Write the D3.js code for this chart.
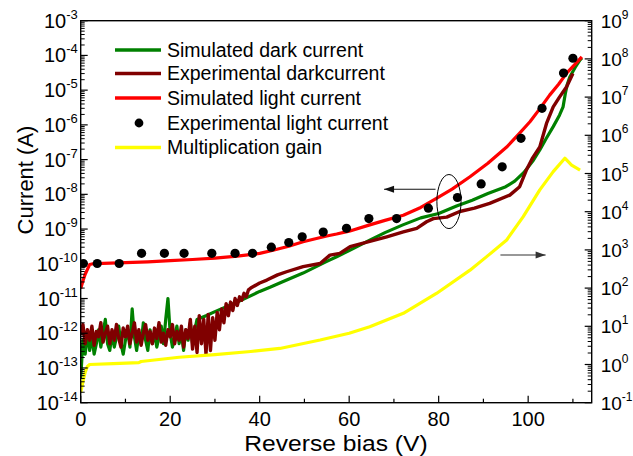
<!DOCTYPE html>
<html><head><meta charset="utf-8">
<script src="https://cdn.jsdelivr.net/npm/d3@7"></script>
<style>
body{margin:0;background:#fff}
text{font-family:"Liberation Sans",Arial,sans-serif;fill:#000}
</style>
</head><body>
<svg id="chart" width="633" height="456"></svg>
<script>
// ---------- data ----------
const xMajorTicks = [0, 20, 40, 60, 80, 100];
const xMinorTicks = [10, 30, 50, 70, 90, 110];
const leftExponents = [-14,-13,-12,-11,-10,-9,-8,-7,-6,-5,-4,-3];
const rightExponents = [-1,0,1,2,3,4,5,6,7,8,9];

const legendLabels = ["Simulated dark current","Experimental darkcurrent","Simulated light current","Experimental light current","Multiplication gain"];

// Simulated dark current
const simDarkV = [0,0.5,1,1.5,2,2.5,3,3.5,4,4.5,5,5.5,6,6.5,7,7.5,8,8.5,9,9.5,10,10.5,11,11.5,12,12.5,13,13.5,14,14.5,15,15.5,16,16.5,17,17.5,18,18.5,19,19.5,20,20.5,21,21.5,22,22.5,23,23.5,24,24.5,25,25.5,26,
  28,30,35,40,42.3,45,49.7,55,57.2,60,64.6,68,72,76,80,84,87.5,91,95,97,99,101,102.6,104,105.6,107,107.8,108.3,108.7,109.3,110.5,111.6,112];
const simDarkI = [5.0e-14,6.3e-13,2.5e-13,1.0e-12,3.2e-13,7.9e-13,2.5e-13,5.0e-13,1.26e-12,4.0e-13,1.0e-12,2.5e-12,5.0e-13,3.2e-13,1.0e-12,4.0e-13,7.9e-13,1.6e-12,5.0e-13,2.5e-13,6.3e-13,1.26e-12,4.0e-13,5.0e-12,7.9e-13,3.2e-13,1.0e-12,5.0e-13,2.0e-12,6.3e-13,3.2e-13,1.26e-12,5.0e-13,1.0e-12,4.0e-13,7.9e-13,1.6e-12,5.0e-13,2.5e-12,1.0e-11,1.0e-12,4.0e-13,7.9e-13,1.6e-12,5.0e-13,1.0e-12,3.2e-13,1.26e-12,6.3e-13,2.0e-12,5.0e-13,1.26e-12,2.5e-12,
  3.2e-12,4.2e-12,7.9e-12,1.6e-11,2.1e-11,3.0e-11,5.4e-11,1.17e-10,1.6e-10,2.4e-10,4.8e-10,7.9e-10,1.32e-9,2.1e-9,2.8e-9,4.6e-9,6.8e-9,1.05e-8,1.66e-8,2.4e-8,4.2e-8,8.9e-8,1.9e-7,4.0e-7,8.9e-7,1.9e-6,3.3e-6,7.9e-6,1.4e-5,2.4e-5,4.5e-5,7.4e-5,8.5e-5];

// Experimental dark current
const expDarkV = [0,0.5,1,1.5,2,2.5,3,3.5,4,4.5,5,5.5,6,6.5,7,7.5,8,8.5,9,9.5,10,10.5,11,11.5,12,12.5,13,13.5,14,14.5,15,15.5,16,16.5,17,17.5,18,18.5,19,19.5,20,20.5,21,21.5,22,22.5,23,23.5,24,24.5,25,25.5,26,26.5,27,27.5,28,28.5,29,29.5,30,30.5,31,31.5,32,32.5,33,33.5,34,34.5,35,35.5,36,36.5,37,37.5,38,
  40,41.6,44,46,49.7,53.5,55.7,57.9,60.2,64.6,68.4,72.1,75.1,77.3,78.8,81.8,84.7,88,91.4,95.9,98.1,99.6,101,102.6,104.1,105.6,107,108.6,110];
const expDarkI = [8.9e-13,1.78e-12,5.0e-13,1.26e-12,6.3e-13,1.6e-12,4.5e-13,1.12e-12,7.9e-13,2.0e-12,5.6e-13,1.0e-12,1.6e-12,5.0e-13,1.26e-12,6.3e-13,1.78e-12,7.1e-13,4.0e-13,1.41e-12,7.9e-13,1.6e-12,5.0e-13,1.0e-12,2.0e-12,5.6e-13,1.26e-12,4.5e-13,1.0e-12,1.78e-12,6.3e-13,1.12e-12,5.0e-13,1.41e-12,7.1e-13,2.0e-12,5.6e-13,1.0e-12,4.5e-13,1.26e-12,7.9e-13,1.78e-12,5.0e-13,1.12e-12,6.3e-13,1.6e-12,4.0e-13,1.26e-12,7.1e-13,2.5e-12,3.5e-13,1.6e-12,2.8e-13,3.2e-12,5.0e-13,2.5e-12,2.5e-13,3.5e-12,3.2e-13,2.8e-12,6.3e-13,4.0e-12,1.26e-12,5.0e-12,2.0e-12,7.1e-12,3.2e-12,7.9e-12,4.5e-12,1.0e-11,6.3e-12,1.12e-11,8.9e-12,1.41e-11,1.12e-11,1.78e-11,2.0e-11,
  2.8e-11,3.4e-11,4.8e-11,5.9e-11,8.3e-11,1.02e-10,1.78e-10,2.0e-10,3.1e-10,4.4e-10,6.0e-10,8.3e-10,1.05e-9,1.62e-9,2.0e-9,2.2e-9,3.2e-9,4.0e-9,5.5e-9,9.5e-9,1.66e-8,5.0e-8,1.12e-7,2.3e-7,1.1e-6,3.3e-6,6.3e-6,1.26e-5,3.0e-5];

// Simulated light current
const simLightV = [0,0.5,1,2,3,5,10,15,20,25,30,35,40,43,46.5,49.7,55,57.2,60,64.6,68,72.1,76,79.5,83,87,91,95.2,98,100.4,102.5,104.8,106.8,108.6,110.5,112];
const simLightI = [1.95e-11,3.2e-11,5.0e-11,9.5e-11,1.02e-10,1.03e-10,1.08e-10,1.14e-10,1.23e-10,1.33e-10,1.45e-10,1.66e-10,2.0e-10,2.45e-10,3.2e-10,4.3e-10,6.3e-10,7.2e-10,8.7e-10,1.32e-9,1.78e-9,2.5e-9,4.2e-9,7.6e-9,1.41e-8,3.2e-8,7.9e-8,2.3e-7,5.6e-7,1.23e-6,2.8e-6,7.2e-6,1.48e-5,3.1e-5,5.6e-5,9.1e-5];

// Experimental light current (points)
const expLightV = [0.6,3.7,8.6,13.6,18.7,23.1,29.3,34.5,38.4,42.6,46.5,49.5,54.2,59.4,64.4,70.6,77.7,84.2,89.5,94.2,98.4,103.1,107.9,110.0];
const expLightI = [1.02e-10,1.02e-10,1.02e-10,2.0e-10,2.0e-10,2.0e-10,2.0e-10,2.0e-10,2.0e-10,3.0e-10,4.1e-10,6.0e-10,8.2e-10,1.05e-9,2.0e-9,2.0e-9,4.0e-9,8.1e-9,2.0e-8,6.2e-8,4.1e-7,3.0e-6,3.1e-5,8.3e-5];

// Multiplication gain (right axis)
const gainV = [0,0.5,1,1.5,2,7.3,13,13.5,22,30,38,44.5,53.5,60,64.6,72.1,79.5,87,91,95.2,98.9,102.6,105.6,108.2,109.7,111.6];
const gainG = [0.186,0.355,0.63,0.89,1.0,1.05,1.12,1.2,1.55,1.82,2.19,2.63,4.37,6.6,9.77,21.9,72.4,295,708,1820,7410,37150,112200,251200,166000,123000];

// ---------- layout ----------
const svg = d3.select("#chart");
const L = 80.7, R = 591.7, T = 20.7, B = 402.7;
const x = d3.scaleLinear().domain([0, 114.2]).range([L, R]);
const yL = d3.scaleLog().domain([1e-14, 1e-3]).range([B, T]);
const yR = d3.scaleLog().domain([1e-1, 1e9]).range([B, T]);

// series
const lineL = (V, I) => d3.line().x((d,i)=>x(V[i])).y((d,i)=>yL(I[i]))(V);
const lineR = (V, G) => d3.line().x((d,i)=>x(V[i])).y((d,i)=>yR(G[i]))(V);

svg.append("clipPath").attr("id","pa").append("rect")
  .attr("x",L).attr("y",T).attr("width",R-L).attr("height",B-T);
const plot = svg.append("g").attr("clip-path","url(#pa)");

plot.append("path").attr("d", lineL(simDarkV, simDarkI)).attr("fill","none").attr("stroke","#008000").attr("stroke-width",3.2).attr("stroke-linejoin","round");
plot.append("path").attr("d", lineL(expDarkV, expDarkI)).attr("fill","none").attr("stroke","#800000").attr("stroke-width",3.4).attr("stroke-linejoin","round");
plot.append("path").attr("d", lineL(simLightV, simLightI)).attr("fill","none").attr("stroke","#ff0000").attr("stroke-width",3.2).attr("stroke-linejoin","round");
plot.selectAll("circle.el").data(expLightV).enter().append("circle")
  .attr("cx",(d,i)=>x(expLightV[i])).attr("cy",(d,i)=>yL(expLightI[i])).attr("r",4.6).attr("fill","#000");
plot.append("path").attr("d", lineR(gainV, gainG)).attr("fill","none").attr("stroke","#ffff00").attr("stroke-width",3.2).attr("stroke-linejoin","round");

// annotations: ellipse and arrows
const ellV = 82.3, ellI = 6.2e-9;
svg.append("ellipse")
  .attr("cx", x(ellV)).attr("cy", yL(ellI))
  .attr("rx", x(ellV+2.7)-x(ellV))
  .attr("ry", yL(ellI) - yL(ellI*6.0))
  .attr("fill","none").attr("stroke","#000").attr("stroke-width",1);

function arrow(x1,y1,x2,y2,col){
  svg.append("line").attr("x1",x1).attr("y1",y1).attr("x2",x2).attr("y2",y2).attr("stroke",col).attr("stroke-width",1.2);
  const dir = Math.sign(x2-x1);
  svg.append("path").attr("d",`M${x2},${y2} L${x2-dir*10},${y2-3.5} L${x2-dir*10},${y2+3.5} Z`).attr("fill",col);
}
arrow(x(79.3), yL(1.4e-8), x(67.8), yL(1.4e-8), "#111");
arrow(x(93.8), yR(736), x(103.9), yR(736), "#333");

// frame
svg.append("rect").attr("x",L).attr("y",T).attr("width",R-L).attr("height",B-T)
  .attr("fill","none").attr("stroke","#000").attr("stroke-width",1.4);

// x ticks (inward)
const ax = svg.append("g");
xMajorTicks.forEach(v=>{
  ax.append("line").attr("x1",x(v)).attr("x2",x(v)).attr("y1",B).attr("y2",B-7).attr("stroke","#000").attr("stroke-width",1.2);
  ax.append("text").attr("x",x(v)).attr("y",B+23).attr("text-anchor","middle").attr("font-size",20).text(v);
});
xMinorTicks.forEach(v=>{
  ax.append("line").attr("x1",x(v)).attr("x2",x(v)).attr("y1",B).attr("y2",B-4).attr("stroke","#000").attr("stroke-width",1.2);
});

// log ticks helper
function logTicks(scale, exps, side){
  const xpos = side==="left" ? L : R;
  const dir = side==="left" ? 1 : -1;
  exps.forEach((e,k)=>{
    const v = Math.pow(10,e);
    const yy = scale(v);
    svg.append("line").attr("x1",xpos).attr("x2",xpos+dir*7).attr("y1",yy).attr("y2",yy).attr("stroke","#000").attr("stroke-width",1.2);
    if(k < exps.length-1){
      for(let m=2;m<=9;m++){
        const ym = scale(m*v);
        svg.append("line").attr("x1",xpos).attr("x2",xpos+dir*4).attr("y1",ym).attr("y2",ym).attr("stroke","#000").attr("stroke-width",1);
      }
    }
    const t = svg.append("text").attr("y", yy+7);
    if(side==="left"){
      t.attr("x", L-3).attr("text-anchor","end").attr("font-size",20);
      t.append("tspan").text("10");
      t.append("tspan").attr("font-size",13).attr("dy",-9).text(e);
    } else {
      t.attr("x", R+9).attr("text-anchor","start").attr("font-size",19);
      t.append("tspan").text("10");
      t.append("tspan").attr("font-size",12).attr("dy",-9).text(e);
    }
  });
}
logTicks(yL, leftExponents, "left");
logTicks(yR, rightExponents, "right");

// axis titles
svg.append("text").attr("x", 336).attr("y", 451).attr("text-anchor","middle")
  .attr("font-size",22).attr("transform","translate(336,0) scale(1.12,1) translate(-336,0)").text("Reverse bias (V)");
svg.append("text").attr("transform","translate(33,180) rotate(-90)").attr("text-anchor","middle")
  .attr("font-size",22).text("Current (A)");

// legend
const legY = [50, 73.5, 98, 123, 147.5];
const legColors = ["#008000","#800000","#ff0000",null,"#ffff00"];
legendLabels.forEach((lab,i)=>{
  if(legColors[i]){
    svg.append("line").attr("x1",115).attr("x2",161).attr("y1",legY[i]).attr("y2",legY[i]).attr("stroke",legColors[i]).attr("stroke-width",3.4);
  } else {
    svg.append("circle").attr("cx",139).attr("cy",legY[i]).attr("r",4.4).attr("fill","#000");
  }
  svg.append("text").attr("x",167).attr("y",legY[i]+6.5).attr("font-size",19.5).text(lab);
});
</script>
</body></html>
